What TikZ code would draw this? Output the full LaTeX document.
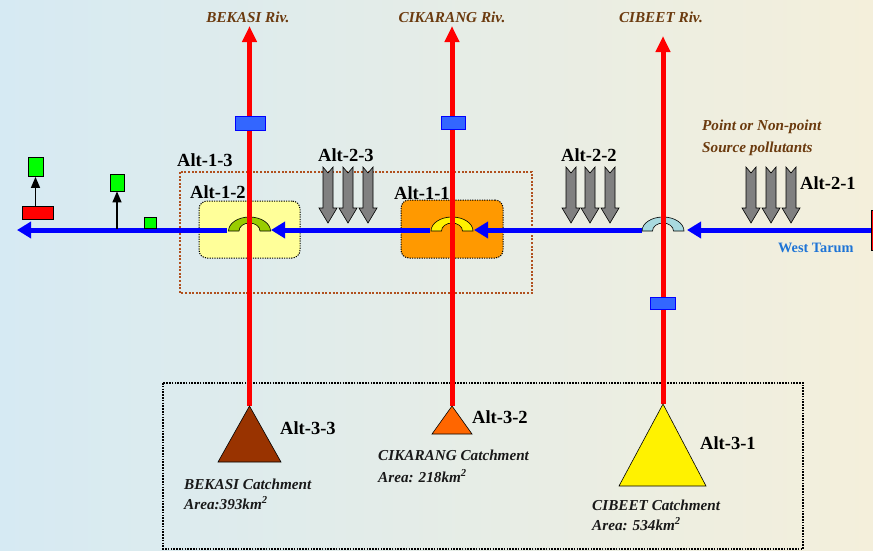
\documentclass[tikz,border=0pt]{standalone}
\usepackage{fontspec}
\setmainfont{Liberation Serif}
\usetikzlibrary{arrows.meta}
\definecolor{bgL}{HTML}{D6EAF3}
\definecolor{bgR}{HTML}{F4EFDB}
\definecolor{rivbrown}{HTML}{6B3A0E}
\definecolor{boxbrown}{HTML}{B0501E}
\definecolor{sqblue}{HTML}{3366FF}
\definecolor{tarumblue}{HTML}{1E74D6}
\definecolor{grayarr}{HTML}{808080}
\definecolor{bekbrown}{HTML}{993300}
\definecolor{ckorange}{HTML}{FF6600}
\definecolor{boxorange}{HTML}{FF9900}
\definecolor{boxyellow}{HTML}{FFFF99}
\definecolor{arcgreen}{HTML}{99CC00}
\definecolor{arcblue}{HTML}{A8DADF}
\tikzset{
  river/.style={draw=red, line width=5pt, -{Triangle[length=16pt,width=14pt]}},
  tarum/.style={draw=blue, line width=5pt, -{Triangle[length=14pt,width=16pt]}},
  altlbl/.style={anchor=west, inner sep=0pt, font=\fontsize{18.5}{18.5}\selectfont\bfseries},
  rivlbl/.style={inner sep=0pt, text=rivbrown, font=\fontsize{15.2}{15.2}\selectfont\bfseries\itshape},
  catlbl/.style={anchor=west, inner sep=0pt, text=black!90, font=\fontsize{15.2}{15.2}\selectfont\bfseries\itshape},
  bluesq/.style={fill=sqblue, draw=blue, line width=0.8pt},
  greensq/.style={fill=green, draw=black, line width=0.8pt},
  blackarr/.style={draw=black, line width=1.5pt, -{Triangle[length=11pt,width=9pt]}},
  altbox/.style={draw=black, line width=1pt, dash pattern=on 1.2pt off 1.2pt, rounded corners=8pt},
}
\newcommand{\bridge}[2]{%
  \filldraw[fill=#2, draw=black, line width=0.6pt]
    (#1-21,231) arc[start angle=180, end angle=360, x radius=21, y radius=14]
    -- (#1+10.5,231) arc[start angle=360, end angle=180, x radius=10.5, y radius=8] -- cycle;}
\newcommand{\pollarrow}[1]{%
  \filldraw[fill=grayarr, draw=black, line width=0.6pt]
    (#1-5,167) -- (#1,173) -- (#1+5,167) -- (#1+5,208) -- (#1+9,208) -- (#1,223)
    -- (#1-9,208) -- (#1-5,208) -- cycle;}
\begin{document}
\begin{tikzpicture}[x=1pt,y=-1pt]
\useasboundingbox (0,0) rectangle (873,550);
\shade[left color=bgL, right color=bgR] (0,0) rectangle (873,550);

% dotted frames
\draw[boxbrown, line width=2pt, dash pattern=on 2pt off 1.6pt] (180,172) rectangle (532,293);
\draw[black, line width=1.8pt, dash pattern=on 1.6pt off 1.2pt] (163,383) rectangle (803,549);

% treatment boxes
\node[altbox, fill=boxyellow, minimum width=101pt, minimum height=57pt, inner sep=0pt] (boxA) at (249.5,229.5) {};
\node[altbox, fill=boxorange, minimum width=102pt, minimum height=58pt, inner sep=0pt] (boxB) at (452,229) {};

% coordinates
\coordinate (east) at (873,230);
\coordinate (west) at (17,230);
\coordinate (cbR) at (687,230);
\coordinate (cbL) at (642,230);
\coordinate (ckR) at (474,230);
\coordinate (ckL) at (430,230);
\coordinate (bkR) at (271,230);
\coordinate (bkL) at (227,230);

% West Tarum
\draw[tarum] (east) -- (cbR);
\draw[tarum] (cbL) -- (ckR);
\draw[tarum] (ckL) -- (bkR);
\draw[tarum] (bkL) -- (west);

% bridges
\bridge{452}{yellow}
\bridge{249.5}{arcgreen}
\bridge{663}{arcblue}

% rivers
\coordinate (bekS) at (249.5,406);
\coordinate (bekN) at (249.5,26);
\coordinate (ckS) at (452,406);
\coordinate (ckN) at (452,26);
\coordinate (cbS) at (663,404);
\coordinate (cbN) at (663,36);
\draw[river] (bekS) -- (bekN);
\draw[river] (ckS) -- (ckN);
\draw[river] (cbS) -- (cbN);

\node[rivlbl] (lbek) at (248,17) {BEKASI Riv.};
\node[rivlbl] (lck) at (452,17) {CIKARANG Riv.};
\node[rivlbl] (lcb) at (661,17) {CIBEET Riv.};

% monitoring squares
\draw[bluesq] (235,116) rectangle (265,130);
\draw[bluesq] (441,116) rectangle (465,129);
\draw[bluesq] (650,297) rectangle (675,309);

% pollutant arrows
\pollarrow{328}\pollarrow{348}\pollarrow{368}
\pollarrow{571}\pollarrow{590}\pollarrow{610}
\pollarrow{751}\pollarrow{771}\pollarrow{791}

% left end
\node[fill=red, draw=black, line width=0.8pt, minimum width=31pt, minimum height=13pt, inner sep=0pt] (redL) at (37.5,212.5) {};
\node[greensq, minimum width=15pt, minimum height=19pt, inner sep=0pt] (gA) at (35.5,167) {};
\node[greensq, minimum width=14pt, minimum height=17pt, inner sep=0pt] (gB) at (117,182.5) {};
\node[greensq, minimum width=12pt, minimum height=11pt, inner sep=0pt] (gC) at (150,222.5) {};
\coordinate (tapB) at (117,229);
\draw[blackarr] (redL.north -| gA.south) -- (gA.south);
\draw[blackarr] (tapB) -- (gB.south);

% right end
\draw[fill=red, draw=black, line width=0.8pt] (871,210) rectangle (880,250);

% catchments
\filldraw[fill=bekbrown, draw=black, line width=0.6pt] (bekS) -- (281,462) -- (218,462) -- cycle;
\filldraw[fill=ckorange, draw=black, line width=0.6pt] (ckS) -- (472,434) -- (432,434) -- cycle;
\filldraw[fill=yellow, draw=black, line width=0.6pt] (cbS) -- (706,486) -- (619,486) -- cycle;

% Alt labels
\node[altlbl] (a13) at (177,160) {Alt-1-3};
\node[altlbl] (a12) at (190,192) {Alt-1-2};
\node[altlbl] (a11) at (394,193) {Alt-1-1};
\node[altlbl] (a23) at (318,155) {Alt-2-3};
\node[altlbl] (a22) at (561,155) {Alt-2-2};
\node[altlbl] (a21) at (800,183) {Alt-2-1};
\node[altlbl] (a33) at (280,428) {Alt-3-3};
\node[altlbl] (a32) at (472,417) {Alt-3-2};
\node[altlbl] (a31) at (700,443) {Alt-3-1};

% texts
\node[rivlbl, anchor=west] (pt1) at (702,127) {Point or Non-point};
\node[rivlbl, anchor=west] (pt2) at (702,149) {Source pollutants};
\node[anchor=west, inner sep=0pt, text=tarumblue, font=\fontsize{14.3}{14.3}\selectfont\bfseries] (wt) at (778,248) {West Tarum};
\node[catlbl] (c1) at (184,484) {BEKASI Catchment};
\node[catlbl] (c1a) at (184,503) {Area:393km\textsuperscript{2}};
\node[catlbl] (c2) at (378,455) {CIKARANG Catchment};
\node[catlbl] (c2a) at (378,476) {Area: 218km\textsuperscript{2}};
\node[catlbl] (c3) at (592,505) {CIBEET Catchment};
\node[catlbl] (c3a) at (592,524) {Area: 534km\textsuperscript{2}};
\end{tikzpicture}
\end{document}
